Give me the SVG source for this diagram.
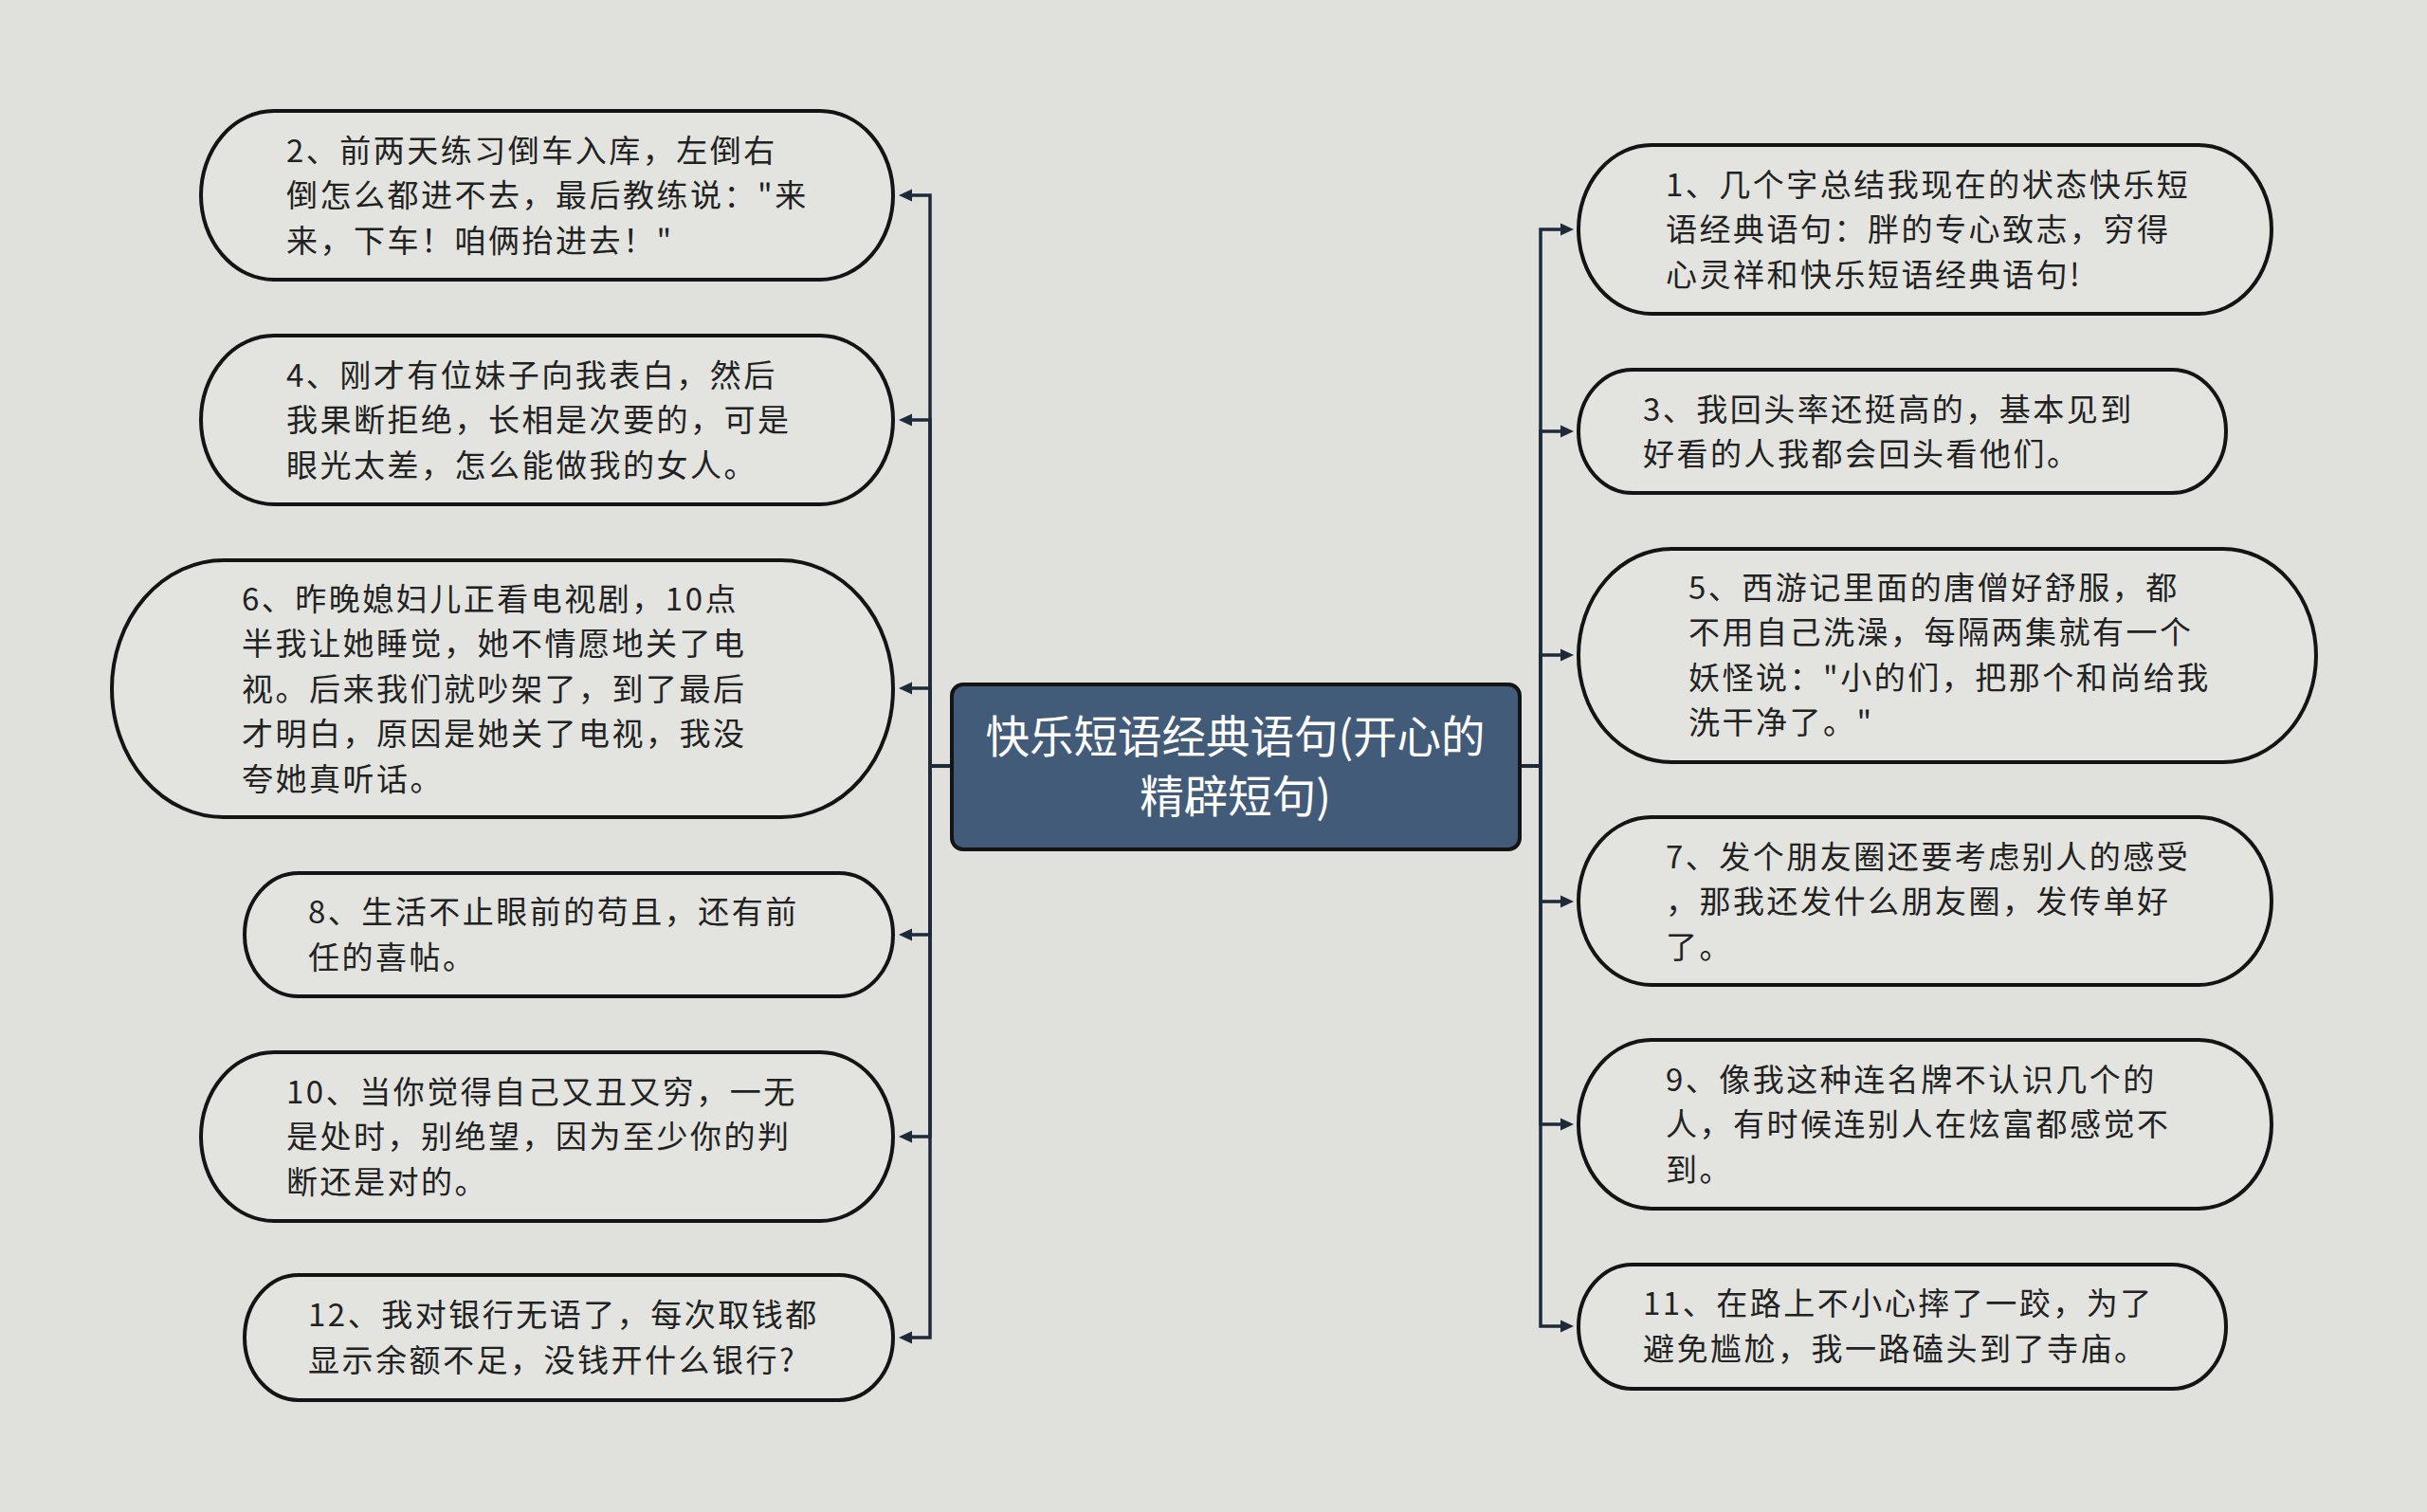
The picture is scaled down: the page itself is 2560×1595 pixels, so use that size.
<svg xmlns="http://www.w3.org/2000/svg" width="2560" height="1595" viewBox="0 0 2560 1595">
<style>
.bg{fill:#e0e1dc}
.node rect{fill:#e3e4e0;stroke:#141414;stroke-width:4}
.node text{font-family:"Noto Sans CJK SC","Noto Sans",sans-serif;font-size:33px;letter-spacing:2.5px;fill:#222222}
.root rect{fill:#425b78;stroke:#141414;stroke-width:4}
.root text{font-family:"Noto Sans CJK SC","Noto Sans",sans-serif;font-size:46.5px;fill:#ffffff;text-anchor:middle}
.conn path{fill:none;stroke:#1d2a3a;stroke-width:3.5}
</style>
<defs>
<marker id="arr" viewBox="0 0 14 14" refX="0" refY="7" markerWidth="14" markerHeight="14" orient="auto" markerUnits="userSpaceOnUse">
<path d="M0 0.5 L14 7 L0 13.5 z" fill="#1d2a3a"/>
</marker>
</defs>
<rect class="bg" x="0" y="0" width="2560" height="1595"/>

<g class="conn" id="connectors">
<path d="M1004 808 H981 V206 H962" marker-end="url(#arr)"/>
<path d="M1004 808 H981 V443 H962" marker-end="url(#arr)"/>
<path d="M1004 808 H981 V726 H962" marker-end="url(#arr)"/>
<path d="M1004 808 H981 V986 H962" marker-end="url(#arr)"/>
<path d="M1004 808 H981 V1199 H962" marker-end="url(#arr)"/>
<path d="M1004 808 H981 V1411 H962" marker-end="url(#arr)"/>
<path d="M1603 808 H1625 V242 H1646" marker-end="url(#arr)"/>
<path d="M1603 808 H1625 V455 H1646" marker-end="url(#arr)"/>
<path d="M1603 808 H1625 V691 H1646" marker-end="url(#arr)"/>
<path d="M1603 808 H1625 V951 H1646" marker-end="url(#arr)"/>
<path d="M1603 808 H1625 V1186 H1646" marker-end="url(#arr)"/>
<path d="M1603 808 H1625 V1399 H1646" marker-end="url(#arr)"/>
</g>

<g class="root" id="root">
<rect x="1004" y="722" width="599" height="174" rx="12" ry="12"/>
<text x="1303" y="794">快乐短语经典语句(开心的</text>
<text x="1303" y="857">精辟短句)</text>
</g>

<g class="node" id="n2">
<rect x="212" y="117" width="730" height="178" rx="77" ry="89"/>
<text x="302" y="171">2、前两天练习倒车入库，左倒右</text>
<text x="302" y="218">倒怎么都进不去，最后教练说："来</text>
<text x="302" y="266">来，下车！咱俩抬进去！"</text>
</g>
<g class="node" id="n4">
<rect x="212" y="354" width="730" height="178" rx="77" ry="89"/>
<text x="302" y="408">4、刚才有位妹子向我表白，然后</text>
<text x="302" y="455">我果断拒绝，长相是次要的，可是</text>
<text x="302" y="503">眼光太差，怎么能做我的女人。</text>
</g>
<g class="node" id="n6">
<rect x="118" y="591" width="824" height="271" rx="118" ry="135.5"/>
<text x="255" y="644">6、昨晚媳妇儿正看电视剧，10点</text>
<text x="255" y="691">半我让她睡觉，她不情愿地关了电</text>
<text x="255" y="739">视。后来我们就吵架了，到了最后</text>
<text x="255" y="786">才明白，原因是她关了电视，我没</text>
<text x="255" y="834">夸她真听话。</text>
</g>
<g class="node" id="n8">
<rect x="258" y="921" width="684" height="130" rx="57" ry="65"/>
<text x="325" y="974">8、生活不止眼前的苟且，还有前</text>
<text x="325" y="1022">任的喜帖。</text>
</g>
<g class="node" id="n10">
<rect x="212" y="1110" width="730" height="178" rx="77" ry="89"/>
<text x="302" y="1164">10、当你觉得自己又丑又穷，一无</text>
<text x="302" y="1211">是处时，别绝望，因为至少你的判</text>
<text x="302" y="1259">断还是对的。</text>
</g>
<g class="node" id="n12">
<rect x="258" y="1345" width="684" height="132" rx="57" ry="66"/>
<text x="325" y="1399">12、我对银行无语了，每次取钱都</text>
<text x="325" y="1447">显示余额不足，没钱开什么银行?</text>
</g>

<g class="node" id="n1">
<rect x="1665" y="153" width="731" height="178" rx="77" ry="89"/>
<text x="1757" y="207">1、几个字总结我现在的状态快乐短</text>
<text x="1757" y="254">语经典语句：胖的专心致志，穷得</text>
<text x="1757" y="302">心灵祥和快乐短语经典语句!</text>
</g>
<g class="node" id="n3">
<rect x="1665" y="390" width="683" height="130" rx="57" ry="65"/>
<text x="1733" y="444">3、我回头率还挺高的，基本见到</text>
<text x="1733" y="491">好看的人我都会回头看他们。</text>
</g>
<g class="node" id="n5">
<rect x="1665" y="579" width="778" height="225" rx="98" ry="112.5"/>
<text x="1781" y="632">5、西游记里面的唐僧好舒服，都</text>
<text x="1781" y="679">不用自己洗澡，每隔两集就有一个</text>
<text x="1781" y="727">妖怪说："小的们，把那个和尚给我</text>
<text x="1781" y="774">洗干净了。"</text>
</g>
<g class="node" id="n7">
<rect x="1665" y="862" width="731" height="177" rx="77" ry="88.5"/>
<text x="1757" y="916">7、发个朋友圈还要考虑别人的感受</text>
<text x="1757" y="963">，那我还发什么朋友圈，发传单好</text>
<text x="1757" y="1011">了。</text>
</g>
<g class="node" id="n9">
<rect x="1665" y="1097" width="731" height="178" rx="77" ry="89"/>
<text x="1757" y="1151">9、像我这种连名牌不认识几个的</text>
<text x="1757" y="1198">人，有时候连别人在炫富都感觉不</text>
<text x="1757" y="1246">到。</text>
</g>
<g class="node" id="n11">
<rect x="1665" y="1334" width="683" height="131" rx="57" ry="65.5"/>
<text x="1733" y="1387">11、在路上不小心摔了一跤，为了</text>
<text x="1733" y="1435">避免尴尬，我一路磕头到了寺庙。</text>
</g>
</svg>
